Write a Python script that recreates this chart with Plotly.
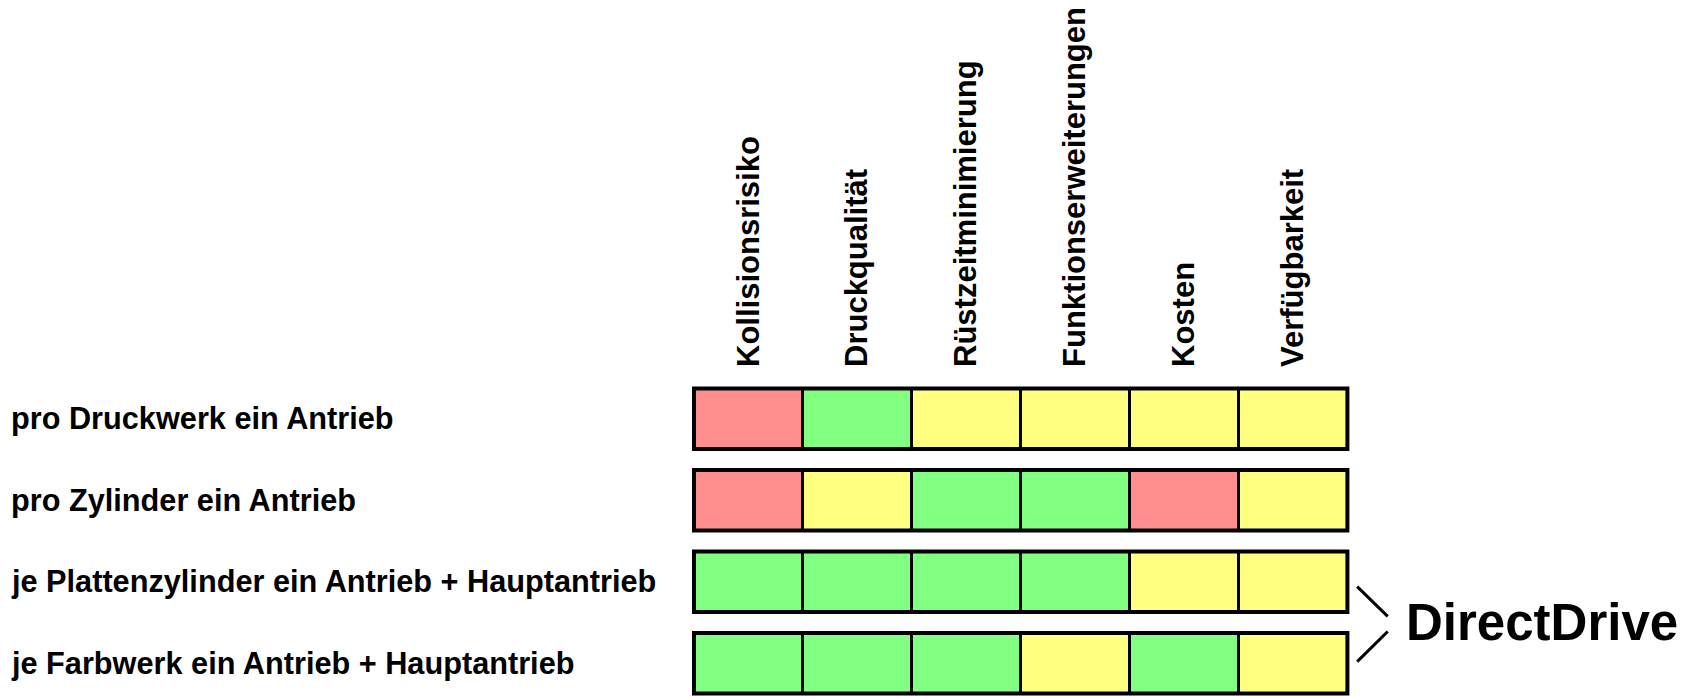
import plotly.graph_objects as go

# ---- data ----
kriterien = ["Kollisionsrisiko", "Druckqualität", "Rüstzeitminimierung",
             "Funktionserweiterungen", "Kosten", "Verfügbarkeit"]
varianten = ["pro Druckwerk ein Antrieb",
             "pro Zylinder ein Antrieb",
             "je Plattenzylinder ein Antrieb + Hauptantrieb",
             "je Farbwerk ein Antrieb + Hauptantrieb"]
# Bewertung: "rot" = schlecht, "gelb" = mittel, "gruen" = gut
bewertung_druckwerk = ["rot", "gruen", "gelb", "gelb", "gelb", "gelb"]
bewertung_zylinder = ["rot", "gelb", "gruen", "gruen", "rot", "gelb"]
bewertung_plattenzylinder = ["gruen", "gruen", "gruen", "gruen", "gelb", "gelb"]
bewertung_farbwerk = ["gruen", "gruen", "gruen", "gelb", "gruen", "gelb"]
gruppe_label = "DirectDrive"
gruppe_rows = [2, 3]

farben = {"rot": "#FF8F8F", "gelb": "#FFFF80", "gruen": "#80FF80"}
bewertungen = [bewertung_druckwerk, bewertung_zylinder,
               bewertung_plattenzylinder, bewertung_farbwerk]

W, H = 1688, 697
FONT = "Liberation Sans"

fig = go.Figure()
for j, k in enumerate(kriterien):
    fig.add_trace(go.Bar(
        orientation="h",
        y=varianten,
        x=[1] * len(varianten),
        name=k,
        marker=dict(color=[farben[b[j]] for b in bewertungen],
                    line=dict(color="black", width=3)),
        showlegend=False,
        hoverinfo="skip",
    ))

# layout geometry
ml, mt = 690, 378
unit = 108.9
plot_w = W - ml
x0 = -4 / unit
x1 = x0 + plot_w / unit
pitch = 81.5
y_bottom = -0.5 + (H - mt) / pitch

# outer frame of each row (slightly heavier than the inner dividers)
for v in varianten:
    fig.add_shape(type="rect", xref="x", yref="y",
                  x0=0, x1=len(kriterien),
                  y0=varianten.index(v) - 0.37, y1=varianten.index(v) + 0.37,
                  line=dict(color="black", width=4), fillcolor="rgba(0,0,0,0)")

# row labels (left aligned)
for v in varianten:
    fig.add_annotation(
        xref="paper", yref="y", x=(9 - ml) / plot_w, y=v,
        xanchor="left", yanchor="middle", showarrow=False,
        text=v, font=dict(family=FONT, size=30.7, color="black", weight="bold"),
    )

# bracket for DirectDrive group
ymid = (gruppe_rows[0] + gruppe_rows[1]) / 2
fig.add_shape(type="line", xref="x", yref="y",
              x0=6.09, y0=ymid - 0.44, x1=6.37, y1=ymid - 0.075,
              line=dict(color="black", width=3))
fig.add_shape(type="line", xref="x", yref="y",
              x0=6.09, y0=ymid + 0.48, x1=6.37, y1=ymid + 0.11,
              line=dict(color="black", width=3))
fig.add_annotation(
    xref="x", yref="y", x=6.52, y=ymid, xanchor="left", yanchor="middle",
    showarrow=False, text=gruppe_label,
    font=dict(family=FONT, size=51, color="black", weight="bold"),
)

fig.update_layout(
    width=W, height=H,
    margin=dict(l=ml, r=0, t=mt, b=0, pad=0),
    barmode="stack", bargap=0.26,
    plot_bgcolor="white", paper_bgcolor="white",
    xaxis=dict(range=[x0, x1], side="top", tickmode="array",
               tickvals=[i + 0.5 for i in range(len(kriterien))],
               ticktext=kriterien, tickangle=-90, ticks="",
               ticklabelstandoff=10,
               tickfont=dict(family=FONT, size=31, color="black", weight="bold"),
               showgrid=False, zeroline=False, showline=False, fixedrange=True),
    yaxis=dict(categoryorder="array", categoryarray=varianten,
               range=[y_bottom, -0.5], showticklabels=False, ticks="",
               showgrid=False, zeroline=False, showline=False, fixedrange=True),
)

fig.write_html("out.html", config={"displayModeBar": False},
               post_script="document.body.style.margin='0';")
